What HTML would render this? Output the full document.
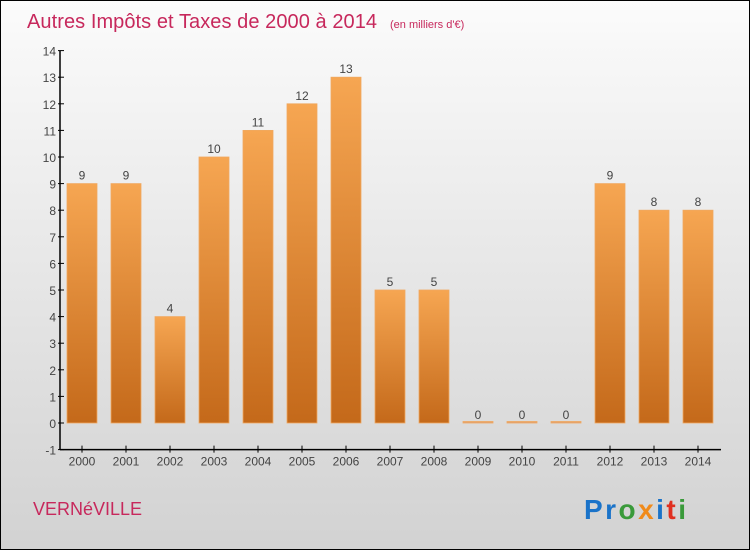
<!DOCTYPE html>
<html><head><meta charset="utf-8"><style>
body{margin:0;}
#c{width:750px;height:550px;position:relative;box-sizing:border-box;border:1px solid #000;background:linear-gradient(#fbfbfb,#d2d2d2);font-family:"Liberation Sans",sans-serif;overflow:hidden}
</style></head><body>
<div id="c">
<svg width="748" height="548">
<defs><linearGradient id="g" x1="0" y1="0" x2="0" y2="1"><stop offset="0" stop-color="#f6a652"/><stop offset="1" stop-color="#c4691a"/></linearGradient></defs>
<text x="26" y="27" font-size="20" fill="#c7285c" textLength="350">Autres Impôts et Taxes de 2000 à 2014</text>
<text x="389" y="27" font-size="11" fill="#c7285c">(en milliers d'€)</text>
<g id="plot"></g>
<text x="32" y="514" font-size="18" fill="#c7285c">VERNéVILLE</text>
<text x="583" y="518" font-size="28" font-weight="bold" textLength="102"><tspan fill="#1a73c9">Pr</tspan><tspan fill="#3a9a3a">o</tspan><tspan fill="#f08a1a">x</tspan><tspan fill="#1a73c9">i</tspan><tspan fill="#e03020">t</tspan><tspan fill="#3a9a3a">i</tspan></text>
</svg>
</div>
<script>
const years=["2000","2001","2002","2003","2004","2005","2006","2007","2008","2009","2010","2011","2012","2013","2014"];
const values=[9,9,4,10,11,12,13,5,5,0,0,0,9,8,8];
const yTicks=[-1,0,1,2,3,4,5,6,7,8,9,10,11,12,13,14];
const NS="http://www.w3.org/2000/svg";
const g=document.getElementById('plot');
const y=v=>422-v*26.6;
const x=i=>81+i*44;
function mk(t,a,txt){const e=document.createElementNS(NS,t);for(const k in a)e.setAttribute(k,a[k]);if(txt!==undefined)e.textContent=txt;g.appendChild(e);return e;}
let ax=mk('line',{x1:59,y1:y(14),x2:59,y2:y(-1),stroke:'#000','stroke-width':1.5});


let xa=mk('line',{x1:59,y1:y(-1),x2:720,y2:y(-1),stroke:'#000','stroke-width':1.5});


yTicks.forEach(t=>{
 mk('line',{x1:57,x2:63,y1:y(t),y2:y(t),stroke:'#000'});
 const l=mk('text',{x:55,y:y(t)+5,'font-size':12,fill:'#444','text-anchor':'end'},String(t));
 
 
});
years.forEach((yr,i)=>{
 const v=values[i];
 const top=y(v),h=Math.max(y(0)-top,1.5);
 const b=mk('rect',{x:x(i)-15,y:v>0?top:y(0)-1.5,width:30,height:h,fill:v>0?'url(#g)':'#e0a070',stroke:'#f0a860','stroke-width':0.8});
 
 
 const vl=mk('text',{x:x(i),y:(v>0?top:y(0))-4,'font-size':12,fill:'#444','text-anchor':'middle'},String(v));
 
 
 mk('line',{x1:x(i),x2:x(i),y1:y(-1)-4,y2:y(-1)+3,stroke:'#000'});
 const xl=mk('text',{x:x(i),y:y(-1)+16,'font-size':12,fill:'#444','text-anchor':'middle'},yr);
 
 
});
</script>
</body></html>
